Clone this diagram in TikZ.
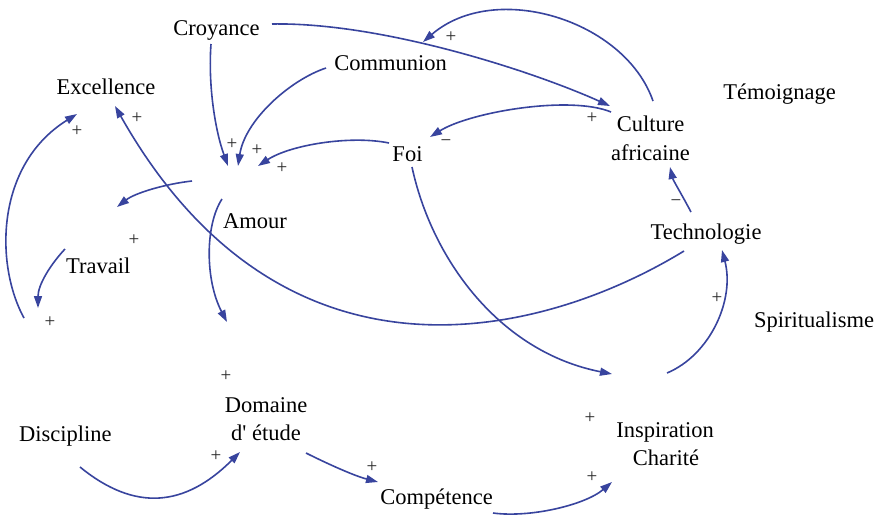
\documentclass[tikz,border=0pt]{standalone}
\usepackage{fontspec}
\setmainfont{Liberation Serif}
\usetikzlibrary{arrows.meta}
\definecolor{arrowblue}{RGB}{56,68,158}
\begin{document}
\begin{tikzpicture}[x=1pt,y=-1pt,
  lbl/.style={font=\fontsize{22.5}{28}\selectfont, inner sep=0pt, anchor=base},
  pol/.style={font=\fontsize{19}{19}\selectfont, inner sep=0pt, text=black!85},
  arr/.style={draw=arrowblue, line width=1.6pt, -{Triangle[length=12pt,width=8pt]}}]
\useasboundingbox[fill=white] (0,0) rectangle (882,515);

% variables
\node[lbl] (croyance) at (216.5,35) {Croyance};
\node[lbl] (excellence) at (106,94) {Excellence};
\node[lbl] (communion) at (390.5,70) {Communion};
\node[lbl] (culture1) at (650.5,131.7) {Culture};
\node[lbl] (culture2) at (650.5,160) {africaine};
\node[lbl] (temoignage) at (779.5,99) {Témoignage};
\node[lbl] (technologie) at (706,239) {Technologie};
\node[lbl] (foi) at (407.5,161.7) {Foi};
\node[lbl] (amour) at (255,228) {Amour};
\node[lbl] (travail) at (98.3,273) {Travail};
\node[lbl] (spiritualisme) at (814,327) {Spiritualisme};
\node[lbl] (discipline) at (65.3,441) {Discipline};
\node[lbl] (domaine1) at (266,412) {Domaine};
\node[lbl] (domaine2) at (266,440) {d\textquotesingle{} étude};
\node[lbl] (competence) at (436.5,504) {Compétence};
\node[lbl] (inspiration1) at (665,437) {Inspiration};
\node[lbl] (inspiration2) at (666,465) {Charité};

% connector end points
\coordinate (croy-a) at (211,44);   \coordinate (am-in1) at (228,166);
\coordinate (comm-a) at (326,68);   \coordinate (am-in2) at (238,166);
\coordinate (foi-a) at (389,143);   \coordinate (am-in3) at (258,166);
\coordinate (croy-c) at (272,24);   \coordinate (cult-in1) at (610,106);
\coordinate (cult-a) at (653,101);  \coordinate (comm-in) at (423,42);
\coordinate (cult-b) at (611,112);  \coordinate (foi-in) at (430,137);
\coordinate (tech-a) at (691,212);  \coordinate (cult-in2) at (670,167);
\coordinate (tech-b) at (684,251);  \coordinate (exc-in1) at (115,106);
\coordinate (am-a) at (192,181);    \coordinate (trav-in) at (117,207);
\coordinate (trav-a) at (65,249);   \coordinate (trav-out) at (38,308);
\coordinate (exc-src) at (24,318);  \coordinate (exc-in2) at (77,114);
\coordinate (am-b) at (222,199);    \coordinate (dom-in1) at (227,322);
\coordinate (foi-b) at (412,167);   \coordinate (insp-in1) at (612,374);
\coordinate (insp-a) at (667,373);  \coordinate (tech-in) at (722,250);
\coordinate (disc-a) at (80,467);   \coordinate (dom-in2) at (240,452);
\coordinate (dom-a) at (306,453);   \coordinate (comp-in) at (378,482);
\coordinate (comp-a) at (493,513);  \coordinate (insp-in2) at (612,482);

% connectors
\draw[arr] (croy-a) .. controls (208,85) and (215,130) .. (am-in1);
\draw[arr] (comm-a) .. controls (290,80) and (245,120) .. (am-in2);
\draw[arr] (foi-a) .. controls (350,135) and (290,145) .. (am-in3);
\draw[arr] (croy-c) .. controls (380,22) and (530,70) .. (cult-in1);
\draw[arr] (cult-a) .. controls (625,20) and (495,-20) .. (comm-in);
\draw[arr] (cult-b) .. controls (570,95) and (470,112) .. (foi-in);
\draw[arr] (tech-a) .. controls (682,195) and (673,180) .. (cult-in2);
\draw[arr] (tech-b) .. controls (545,336) and (284,405) .. (exc-in1);
\draw[arr] (am-a) .. controls (165,184) and (135,193) .. (trav-in);
\draw[arr] (trav-a) .. controls (50,265) and (38,285) .. (trav-out);
\draw[arr] (exc-src) .. controls (-5,265) and (-5,165) .. (exc-in2);
\draw[arr] (am-b) .. controls (205,225) and (205,280) .. (dom-in1);
\draw[arr] (foi-b) .. controls (432,260) and (500,352) .. (insp-in1);
\draw[arr] (insp-a) .. controls (710,355) and (735,300) .. (tech-in);
\draw[arr] (disc-a) .. controls (135,512) and (185,507) .. (dom-in2);
\draw[arr] (dom-a) .. controls (330,465) and (355,476) .. (comp-in);
\draw[arr] (comp-a) .. controls (530,518) and (585,505) .. (insp-in2);

% polarities
\node[pol] (p1) at (232,144) {+};
\node[pol] (p2) at (257,150) {+};
\node[pol] (p3) at (282,168) {+};
\node[pol] (p4) at (451,37) {+};
\node[pol] (p5) at (592,118) {+};
\node[pol] (p6) at (446,143) {−};
\node[pol] (p7) at (676,203) {−};
\node[pol] (p8) at (77,131) {+};
\node[pol] (p9) at (137,118) {+};
\node[pol] (p10) at (134,240) {+};
\node[pol] (p11) at (50,322) {+};
\node[pol] (p12) at (226,376) {+};
\node[pol] (p13) at (717,298) {+};
\node[pol] (p14) at (590,418) {+};
\node[pol] (p15) at (216,456) {+};
\node[pol] (p16) at (372,467) {+};
\node[pol] (p17) at (592,477) {+};
\end{tikzpicture}
\end{document}
